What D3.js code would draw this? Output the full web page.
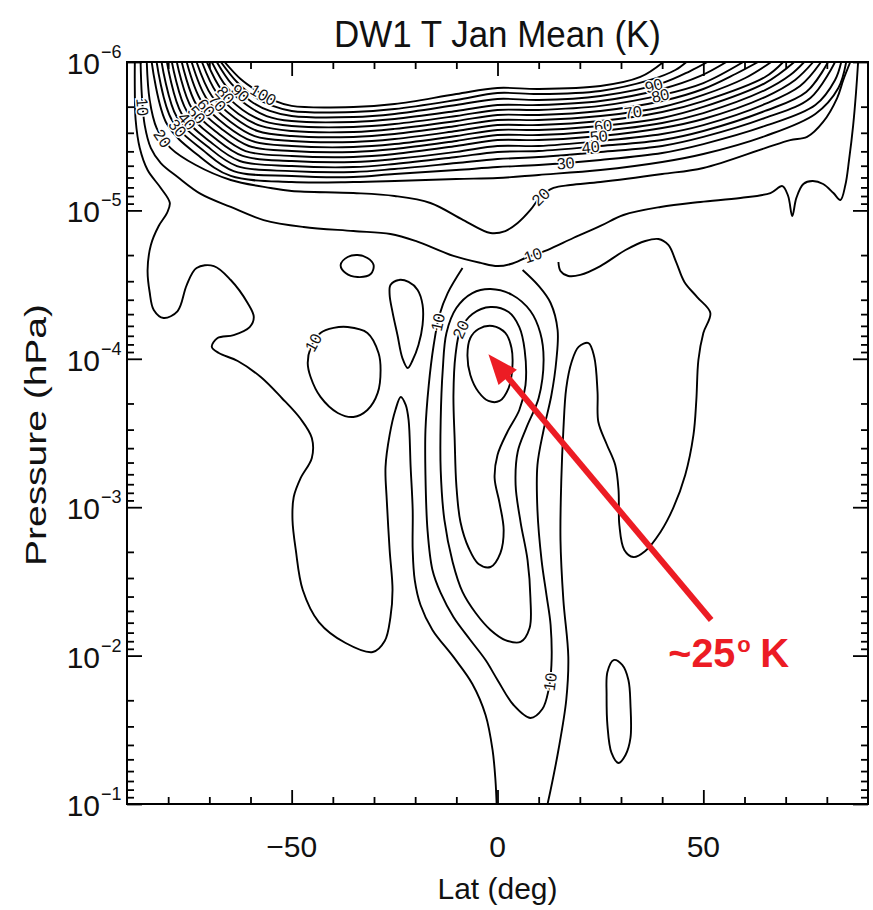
<!DOCTYPE html>
<html>
<head>
<meta charset="utf-8">
<script src="https://cdn.jsdelivr.net/npm/d3@7"></script>
<style>
  body { margin: 0; background: #fff; }
  text { font-family: "Liberation Sans", Arial, sans-serif; }
</style>
</head>
<body>
<svg id="chart" width="873" height="910"></svg>
<script>
// ---- axis definitions ----
const latMajorTicks = [-50, 0, 50];
const latMinorTicks = [-80, -70, -60, -40, -30, -20, -10, 10, 20, 30, 40, 60, 70, 80];
const pressureDecades = [-6, -5, -4, -3, -2, -1];
const titleText = "DW1 T Jan Mean (K)";
const xTitle = "Lat (deg)";
const yTitle = "Pressure (hPa)";

// ---- contour lines, points are [latitude (deg), log10 pressure (hPa)] ----
const band100 = [[-66.3,-6],[-62.4,-5.885],[-58.0,-5.798],[-53.9,-5.737],[-50,-5.704],[-35,-5.697],[-25,-5.717],[-10,-5.784],[0,-5.825],[10,-5.818],[25,-5.838],[34.7,-5.899],[40.3,-6]];
const band95 = [[-67.2,-6],[-63.3,-5.865],[-59.0,-5.764],[-54.6,-5.704],[-50,-5.670],[-35,-5.663],[-25,-5.683],[-10,-5.744],[0,-5.791],[10,-5.784],[25,-5.805],[37.1,-5.879],[43.2,-5.946],[45.9,-6]];
const band90 = [[-68.2,-6],[-64.6,-5.852],[-60.0,-5.737],[-55.3,-5.670],[-50,-5.636],[-35,-5.629],[-25,-5.650],[-10,-5.710],[0,-5.751],[10,-5.744],[25,-5.771],[40,-5.858],[46.8,-5.939],[51.0,-6]];
const band85 = [[-69.4,-6],[-65.8,-5.832],[-60.9,-5.710],[-56.1,-5.636],[-50,-5.602],[-35,-5.596],[-25,-5.616],[-10,-5.670],[0,-5.710],[10,-5.710],[25,-5.737],[40,-5.818],[49.3,-5.906],[55.6,-6]];
const band80 = [[-70.6,-6],[-67.0,-5.811],[-61.9,-5.677],[-56.8,-5.602],[-50,-5.569],[-35,-5.562],[-25,-5.582],[-10,-5.636],[0,-5.677],[10,-5.677],[25,-5.704],[40,-5.778],[50,-5.858],[59.7,-6]];
const band75 = [[-71.8,-6],[-68.2,-5.791],[-62.9,-5.650],[-57.5,-5.569],[-50,-5.535],[-35,-5.528],[-25,-5.549],[-10,-5.602],[0,-5.643],[10,-5.643],[25,-5.670],[40,-5.737],[50,-5.818],[57.8,-5.919],[63.3,-6]];
const band70 = [[-73.1,-6],[-69.4,-5.771],[-63.8,-5.623],[-58.3,-5.535],[-50,-5.501],[-35,-5.495],[-25,-5.515],[-10,-5.569],[0,-5.609],[10,-5.609],[25,-5.636],[40,-5.697],[50,-5.778],[60.2,-5.892],[66.5,-6]];
const band65 = [[-74.3,-6],[-70.6,-5.751],[-64.8,-5.596],[-59.0,-5.501],[-50,-5.468],[-35,-5.461],[-25,-5.481],[-10,-5.535],[0,-5.575],[10,-5.575],[25,-5.602],[40,-5.663],[50,-5.737],[65,-5.899],[69.4,-6]];
const band60 = [[-75.5,-6],[-71.8,-5.730],[-65.8,-5.569],[-59.7,-5.468],[-50,-5.434],[-35,-5.427],[-25,-5.447],[-10,-5.501],[0,-5.542],[10,-5.542],[25,-5.569],[40,-5.623],[50,-5.697],[65,-5.858],[72.1,-6]];
const band55 = [[-76.7,-6],[-73.1,-5.710],[-66.7,-5.542],[-60.4,-5.434],[-50,-5.400],[-35,-5.394],[-25,-5.414],[-10,-5.468],[0,-5.508],[10,-5.508],[25,-5.535],[40,-5.589],[50,-5.656],[65,-5.811],[71.1,-5.912],[74.5,-6]];
const band50 = [[-77.9,-6],[-74.3,-5.690],[-67.7,-5.515],[-61.2,-5.400],[-50,-5.367],[-35,-5.360],[-25,-5.380],[-10,-5.434],[0,-5.474],[10,-5.474],[25,-5.501],[40,-5.555],[50,-5.616],[65,-5.764],[72.3,-5.879],[76.7,-6]];
const band45 = [[-79.1,-6],[-75.5,-5.670],[-68.7,-5.488],[-61.9,-5.367],[-50,-5.333],[-35,-5.326],[-25,-5.346],[-10,-5.394],[0,-5.434],[10,-5.434],[25,-5.468],[40,-5.515],[50,-5.575],[65,-5.717],[73.5,-5.838],[78.6,-6]];
const band40 = [[-80.3,-6],[-76.7,-5.650],[-69.7,-5.461],[-62.6,-5.333],[-50,-5.299],[-35,-5.292],[-25,-5.313],[-10,-5.360],[0,-5.394],[10,-5.400],[25,-5.434],[40,-5.474],[50,-5.535],[65,-5.670],[75.0,-5.798],[80.3,-6]];
const band35 = [[-81.6,-6],[-77.9,-5.629],[-70.6,-5.434],[-63.3,-5.299],[-50,-5.265],[-35,-5.259],[-25,-5.279],[-10,-5.319],[0,-5.346],[10,-5.360],[25,-5.394],[40,-5.434],[50,-5.495],[65,-5.623],[76.0,-5.757],[82.0,-6]];
const band30 = [[-82.8,-6],[-79.1,-5.609],[-71.6,-5.407],[-64.1,-5.265],[-50,-5.232],[-35,-5.225],[-25,-5.245],[-10,-5.272],[0,-5.292],[10,-5.306],[25,-5.340],[40,-5.387],[50,-5.447],[65,-5.569],[77.2,-5.710],[82.0,-5.879],[83.5,-6]];
const band25 = [[-84.0,-6],[-80.3,-5.582],[-72.8,-5.373],[-64.8,-5.232],[-50,-5.191],[-35,-5.191],[-25,-5.198],[-10,-5.212],[0,-5.218],[10,-5.239],[25,-5.272],[40,-5.326],[50,-5.380],[65,-5.501],[77.2,-5.650],[82.8,-5.825],[84.7,-6]];
const band20 = [[-85.2,-6],[-84.5,-5.744],[-82.8,-5.555],[-79.4,-5.420],[-73.3,-5.306],[-64.8,-5.205],[-55.1,-5.151],[-50,-5.131],[-35,-5.117],[-25,-5.097],[-16.3,-5.050],[-8.3,-4.935],[-1.7,-4.848],[1.9,-4.861],[4.9,-4.915],[8.0,-5.003],[10.4,-5.090],[13.6,-5.151],[17.7,-5.171],[25,-5.191],[40,-5.245],[50,-5.286],[65,-5.420],[71.1,-5.474],[75.2,-5.495],[79.1,-5.596],[82.5,-5.757],[84.0,-5.879],[85.7,-6]];
const band10 = [[-86.7,-6],[-86.4,-5.778],[-85.7,-5.575],[-84.2,-5.420],[-81.8,-5.319],[-77.7,-5.225],[-72.1,-5.111],[-64.8,-5.023],[-56.8,-4.935],[-47.1,-4.888],[-35.0,-4.861],[-26.0,-4.841],[-19.9,-4.794],[-10.7,-4.693],[-4.1,-4.646],[0,-4.625],[3.2,-4.639],[7.3,-4.686],[12.1,-4.733],[18.4,-4.814],[25.0,-4.895],[30.6,-4.969],[39.6,-5.023],[49.3,-5.057],[59.0,-5.084],[66.3,-5.117],[69.2,-5.164],[70.6,-5.097],[71.6,-4.962],[72.6,-5.084],[74.3,-5.178],[76.5,-5.198],[79.1,-5.178],[81.6,-5.117],[83.3,-5.070],[84.5,-5.171],[85.4,-5.340],[86.4,-5.575],[87.1,-5.798],[87.6,-6]];
const outer5 = [[-88.1,-6],[-88.1,-5.811],[-87.9,-5.609],[-86.9,-5.420],[-85.0,-5.272],[-81.8,-5.151],[-79.6,-5.050],[-80.3,-4.982],[-82.3,-4.895],[-84.2,-4.767],[-85.0,-4.598],[-84.5,-4.450],[-83.5,-4.329],[-81.1,-4.275],[-77.7,-4.322],[-75.5,-4.497],[-73.1,-4.612],[-68.9,-4.625],[-64.8,-4.531],[-60.7,-4.376],[-59.2,-4.282],[-60.2,-4.214],[-64.1,-4.160],[-68.0,-4.140],[-69.4,-4.080],[-67.7,-4.039],[-63.1,-3.985],[-57.5,-3.877],[-52.4,-3.736],[-47.8,-3.594],[-45.1,-3.466],[-45.1,-3.332],[-47.8,-3.197],[-49.5,-3.069],[-49.8,-2.914],[-49.0,-2.712],[-47.3,-2.442],[-43.4,-2.226],[-36.9,-2.085],[-30.3,-2.024],[-27.4,-2.098],[-26.0,-2.260],[-25.5,-2.442],[-26.2,-2.712],[-26.9,-3.049],[-27.2,-3.271],[-26.2,-3.487],[-24.8,-3.655],[-23.5,-3.743],[-22.3,-3.689],[-21.6,-3.588],[-21.1,-3.271],[-20.6,-2.981],[-20.6,-2.712],[-20.1,-2.509],[-18.7,-2.341],[-15.8,-2.173],[-10.7,-1.991],[-6.1,-1.809],[-2.9,-1.600],[-1.2,-1.364],[-0.5,-1.162],[-0.2,-0.993]];
const loopSmall = [[-38.1,-4.632],[-36.4,-4.686],[-34.0,-4.699],[-31.6,-4.679],[-30.1,-4.632],[-30.8,-4.571],[-34.0,-4.551],[-36.9,-4.578]];
const loopWest = [[-43.0,-4.174],[-39.8,-4.208],[-36.4,-4.214],[-31.6,-4.174],[-28.9,-4.039],[-28.4,-3.925],[-29.1,-3.770],[-31.6,-3.655],[-35.0,-3.608],[-38.8,-3.635],[-43.0,-3.743],[-45.4,-3.877],[-46.1,-3.972],[-45.4,-4.073]];
const loopDrop = [[-26.0,-4.497],[-24.0,-4.531],[-21.6,-4.518],[-19.4,-4.464],[-18.2,-4.363],[-18.2,-4.228],[-19.2,-4.093],[-20.6,-3.992],[-21.8,-3.938],[-23.1,-4.005],[-24.3,-4.160],[-25.5,-4.315],[-26.2,-4.430]];
const core25 = [[-4.6,-4.201],[-1.2,-4.221],[1.9,-4.174],[3.4,-4.073],[3.6,-3.938],[2.7,-3.803],[0.5,-3.716],[-2.2,-3.716],[-4.6,-3.776],[-6.6,-3.891],[-7.3,-4.026],[-6.6,-4.140]];
const core20 = [[-1.7,-4.349],[2.7,-4.315],[5.3,-4.214],[6.6,-4.059],[6.8,-3.823],[5.3,-3.655],[2.4,-3.507],[0,-3.352],[-0.7,-3.197],[0.5,-3.028],[1.5,-2.846],[0.7,-2.691],[-1.7,-2.597],[-4.6,-2.617],[-7.0,-2.725],[-9.0,-2.900],[-10.0,-3.150],[-10.4,-3.453],[-10.7,-3.756],[-10.2,-4.026],[-9.0,-4.194],[-6.1,-4.302]];
const core15 = [[-1.7,-4.470],[3.6,-4.430],[8.0,-4.322],[10.4,-4.174],[11.2,-3.992],[10.0,-3.736],[7.0,-3.534],[4.9,-3.372],[4.4,-3.150],[5.6,-2.900],[7.3,-2.644],[8.0,-2.388],[7.8,-2.186],[5.6,-2.092],[1.9,-2.105],[-1.7,-2.173],[-5.3,-2.287],[-8.5,-2.429],[-10.9,-2.631],[-12.9,-2.914],[-13.8,-3.251],[-13.8,-3.588],[-13.3,-3.925],[-12.4,-4.174],[-10.0,-4.342],[-6.1,-4.443]];
const core10 = [[-8.5,-4.612],[-12.1,-4.443],[-14.1,-4.295],[-15.5,-4.093],[-16.7,-3.823],[-17.5,-3.520],[-17.5,-3.217],[-17.0,-2.846],[-15.8,-2.577],[-13.8,-2.422],[-10.7,-2.260],[-6.6,-2.105],[-2.9,-1.970],[0,-1.836],[3.9,-1.667],[8.0,-1.580],[10.9,-1.640],[12.4,-1.768],[13.1,-1.937],[12.9,-2.206],[11.9,-2.408],[10.7,-2.644],[9.7,-2.981],[9.7,-3.284],[11.2,-3.520],[13.1,-3.756],[14.3,-3.992],[14.6,-4.194],[12.9,-4.376],[10.0,-4.491],[6.1,-4.598]];
const eastLobe5 = [[14.8,-4.652],[15.3,-4.592],[17.2,-4.558],[20.1,-4.565],[25.0,-4.625],[31.1,-4.733],[35.9,-4.794],[39.1,-4.807],[41.5,-4.767],[43.4,-4.652],[45.4,-4.518],[48.5,-4.416],[51.7,-4.309],[50.0,-4.174],[48.8,-3.992],[48.3,-3.722],[47.6,-3.487],[45.6,-3.217],[42.7,-2.995],[39.6,-2.833],[35.9,-2.705],[33.0,-2.664],[30.8,-2.712],[29.6,-2.880],[29.4,-3.116],[28.6,-3.284],[26.5,-3.426],[24.5,-3.574],[24.3,-3.776],[23.5,-4.012],[22.1,-4.106],[19.7,-4.080],[18.0,-3.978],[16.7,-3.803],[16.0,-3.520],[15.5,-3.183],[15.3,-2.779],[16.0,-2.375],[17.2,-1.991],[16.7,-1.701],[14.8,-1.364],[12.9,-1.094],[12.1,-0.993]];
const loopEast = [[28.2,-1.970],[30.3,-1.937],[31.8,-1.836],[32.3,-1.667],[32.3,-1.445],[31.1,-1.330],[29.4,-1.276],[27.7,-1.344],[26.7,-1.532],[26.5,-1.734],[26.7,-1.889]];

// contour labels: [text, line, lat, log10 p]
const contourLabels = [
  ["100", "band100", -56.8, -5.778],
  ["90", "band90", -62.4, -5.79],
  ["80", "band80", -66.0, -5.78],
  ["70", "band70", -68.4, -5.72],
  ["60", "band60", -70.9, -5.69],
  ["50", "band50", -73.1, -5.64],
  ["40", "band40", -75.5, -5.60],
  ["30", "band30", -77.4, -5.56],
  ["20", "band20", -81.1, -5.49],
  ["10", "band10", -86.4, -5.70],
  ["90", "band90", 37.9, -5.845],
  ["80", "band80", 39.6, -5.76],
  ["70", "band70", 32.8, -5.66],
  ["60", "band60", 25.7, -5.57],
  ["50", "band50", 24.5, -5.50],
  ["40", "band40", 22.6, -5.43],
  ["30", "band30", 16.5, -5.30],
  ["20", "band20", 10.4, -5.09],
  ["10", "band10", 8.7, -4.68],
  ["10", "core10", -15.0, -4.25],
  ["20", "core20", -8.5, -4.19],
  ["10", "loopWest", -44.7, -4.11],
  ["10", "core10", 12.9, -1.82]
];

// annotation: arrow to the equatorial maximum
const peakNote = "~25";
const peakTip = [-2.2, -4.03];
const peakTail = [51.9, -2.24];
const peakTextAt = [41.5, -1.923];

const contourSet = [
  { key: "band100", pts: band100, closed: false },
  { key: "band95", pts: band95, closed: false },
  { key: "band90", pts: band90, closed: false },
  { key: "band85", pts: band85, closed: false },
  { key: "band80", pts: band80, closed: false },
  { key: "band75", pts: band75, closed: false },
  { key: "band70", pts: band70, closed: false },
  { key: "band65", pts: band65, closed: false },
  { key: "band60", pts: band60, closed: false },
  { key: "band55", pts: band55, closed: false },
  { key: "band50", pts: band50, closed: false },
  { key: "band45", pts: band45, closed: false },
  { key: "band40", pts: band40, closed: false },
  { key: "band35", pts: band35, closed: false },
  { key: "band30", pts: band30, closed: false },
  { key: "band25", pts: band25, closed: false },
  { key: "band20", pts: band20, closed: false },
  { key: "band10", pts: band10, closed: false },
  { key: "outer5", pts: outer5, closed: false },
  { key: "loopSmall", pts: loopSmall, closed: true },
  { key: "loopWest", pts: loopWest, closed: true },
  { key: "loopDrop", pts: loopDrop, closed: true },
  { key: "core25", pts: core25, closed: true },
  { key: "core20", pts: core20, closed: true },
  { key: "core15", pts: core15, closed: true },
  { key: "core10", pts: core10, closed: false },
  { key: "eastLobe5", pts: eastLobe5, closed: false },
  { key: "loopEast", pts: loopEast, closed: true }
];

// ---- scales ----
const svg = d3.select("#chart");
const x = d3.scaleLinear().domain([-90, 90]).range([127, 868]);
const y = d3.scaleLog().domain([1e-6, 1e-1]).range([62, 804]);
const px = d => x(d[0]);
const py = d => y(Math.pow(10, d[1]));
const openLine = d3.line().x(px).y(py).curve(d3.curveCatmullRom.alpha(0.5));
const closedLine = d3.line().x(px).y(py).curve(d3.curveCatmullRomClosed.alpha(0.5));

const [x0, x1] = x.range();
const [y0, y1] = y.range();

svg.append("defs").append("clipPath").attr("id", "plotClip")
  .append("rect").attr("x", x0).attr("y", y0).attr("width", x1 - x0).attr("height", y1 - y0);

// ---- contours ----
const contourG = svg.append("g").attr("clip-path", "url(#plotClip)");
const pathNodes = {};
contourG.selectAll("path.contour")
  .data(contourSet)
  .join("path")
  .attr("class", "contour")
  .attr("d", d => (d.closed ? closedLine : openLine)(d.pts))
  .attr("fill", "none")
  .attr("stroke", "#000")
  .attr("stroke-width", 1.9)
  .attr("stroke-linejoin", "round")
  .each(function (d) { pathNodes[d.key] = this; });

// ---- contour labels placed on their line, following its direction ----
function spotOnPath(node, tx, ty) {
  const len = node.getTotalLength();
  let best = 0, bestD = Infinity;
  for (let s = 0; s <= len; s += 1) {
    const p = node.getPointAtLength(s);
    const dd = (p.x - tx) * (p.x - tx) + (p.y - ty) * (p.y - ty);
    if (dd < bestD) { bestD = dd; best = s; }
  }
  const p = node.getPointAtLength(best);
  const a = node.getPointAtLength(Math.max(0, best - 4));
  const b = node.getPointAtLength(Math.min(len, best + 4));
  let ang = Math.atan2(b.y - a.y, b.x - a.x) * 180 / Math.PI;
  if (ang > 90) ang -= 180;
  if (ang < -90) ang += 180;
  return { x: p.x, y: p.y, ang };
}

const labelG = svg.append("g");
contourLabels.forEach(([txt, key, lat, lp]) => {
  const s = spotOnPath(pathNodes[key], x(lat), y(Math.pow(10, lp)));
  labelG.append("text")
    .attr("transform", `translate(${s.x},${s.y}) rotate(${s.ang})`)
    .attr("text-anchor", "middle")
    .attr("dy", "0.36em")
    .attr("font-size", 16)
    .attr("fill", "#111")
    .attr("stroke", "#fff")
    .attr("stroke-width", 3)
    .attr("paint-order", "stroke")
    .text(txt);
});

// ---- frame and ticks ----
const axisG = svg.append("g");
function tickOnly(g, axis) {
  g.call(axis);
  g.select(".domain").remove();
  g.selectAll("text").remove();
  g.selectAll("line").attr("stroke", "#000").attr("stroke-width", 1.8);
}
const pMinor = [];
pressureDecades.slice(0, -1).forEach(d => {
  for (let m = 2; m <= 9; m++) pMinor.push(m * Math.pow(10, d));
});
const pMajor = pressureDecades.map(d => Math.pow(10, d));

tickOnly(axisG.append("g").attr("transform", `translate(0,${y1})`), d3.axisBottom(x).tickValues(latMajorTicks).tickSize(-14));
tickOnly(axisG.append("g").attr("transform", `translate(0,${y1})`), d3.axisBottom(x).tickValues(latMinorTicks).tickSize(-7));
tickOnly(axisG.append("g").attr("transform", `translate(0,${y0})`), d3.axisTop(x).tickValues(latMajorTicks).tickSize(-14));
tickOnly(axisG.append("g").attr("transform", `translate(0,${y0})`), d3.axisTop(x).tickValues(latMinorTicks).tickSize(-7));
tickOnly(axisG.append("g").attr("transform", `translate(${x0},0)`), d3.axisLeft(y).tickValues(pMajor).tickSize(-15));
tickOnly(axisG.append("g").attr("transform", `translate(${x0},0)`), d3.axisLeft(y).tickValues(pMinor).tickSize(-7));
tickOnly(axisG.append("g").attr("transform", `translate(${x1},0)`), d3.axisRight(y).tickValues(pMajor).tickSize(-15));
tickOnly(axisG.append("g").attr("transform", `translate(${x1},0)`), d3.axisRight(y).tickValues(pMinor).tickSize(-7));

axisG.append("rect")
  .attr("x", x0).attr("y", y0).attr("width", x1 - x0).attr("height", y1 - y0)
  .attr("fill", "none").attr("stroke", "#000").attr("stroke-width", 2);

// tick labels
const fmtLat = v => (v < 0 ? "\u2212" + Math.abs(v) : String(v));
axisG.selectAll("text.xlab").data(latMajorTicks).join("text")
  .attr("class", "xlab")
  .attr("x", d => x(d)).attr("y", y1 + 53)
  .attr("text-anchor", "middle").attr("font-size", 30).attr("fill", "#111")
  .text(fmtLat);

pressureDecades.forEach(d => {
  const yy = y(Math.pow(10, d));
  axisG.append("text").attr("x", x0 - 27).attr("y", yy + 12)
    .attr("text-anchor", "end").attr("font-size", 30).attr("fill", "#111").text("10");
  axisG.append("text").attr("x", x0 - 26).attr("y", yy - 4)
    .attr("text-anchor", "start").attr("font-size", 18).attr("fill", "#111").text("\u2212" + Math.abs(d));
});

// titles
svg.append("text").attr("x", (x0 + x1) / 2).attr("y", 47)
  .attr("text-anchor", "middle").attr("font-size", 36).attr("fill", "#111")
  .attr("textLength", 327).attr("lengthAdjust", "spacingAndGlyphs")
  .text(titleText);
svg.append("text").attr("x", (x0 + x1) / 2).attr("y", y1 + 95)
  .attr("text-anchor", "middle").attr("font-size", 30).attr("fill", "#111")
  .attr("textLength", 120).attr("lengthAdjust", "spacingAndGlyphs")
  .text(xTitle);
svg.append("text")
  .attr("transform", `translate(46,${(y0 + y1) / 2 + 2}) rotate(-90)`)
  .attr("text-anchor", "middle").attr("font-size", 30).attr("fill", "#111")
  .attr("textLength", 262).attr("lengthAdjust", "spacingAndGlyphs")
  .text(yTitle);

// ---- red annotation ----
const red = "#ec1c24";
const noteG = svg.append("g");
const T = [px(peakTip), py(peakTip)];
const S = [px(peakTail), py(peakTail)];
const len = Math.hypot(T[0] - S[0], T[1] - S[1]);
const u = [(T[0] - S[0]) / len, (T[1] - S[1]) / len];
const n = [-u[1], u[0]];
const headLen = 30, headHalf = 12;
const B = [T[0] - u[0] * headLen, T[1] - u[1] * headLen];
noteG.append("line")
  .attr("x1", S[0]).attr("y1", S[1])
  .attr("x2", B[0] + u[0] * 4).attr("y2", B[1] + u[1] * 4)
  .attr("stroke", red).attr("stroke-width", 6);
noteG.append("path")
  .attr("d", `M${T[0]},${T[1]}L${B[0] + n[0] * headHalf},${B[1] + n[1] * headHalf}L${B[0] - n[0] * headHalf},${B[1] - n[1] * headHalf}Z`)
  .attr("fill", red);

const tx = px(peakTextAt), ty = py(peakTextAt);
noteG.append("text").attr("x", tx).attr("y", ty)
  .attr("font-size", 40).attr("font-weight", "bold").attr("fill", red)
  .attr("textLength", 67).attr("lengthAdjust", "spacingAndGlyphs")
  .text(peakNote);
noteG.append("text").attr("x", tx + 69).attr("y", ty - 15)
  .attr("font-size", 22).attr("font-weight", "bold").attr("fill", red)
  .text("o");
noteG.append("text").attr("x", tx + 92).attr("y", ty)
  .attr("font-size", 40).attr("font-weight", "bold").attr("fill", red)
  .text("K");
</script>
</body>
</html>
